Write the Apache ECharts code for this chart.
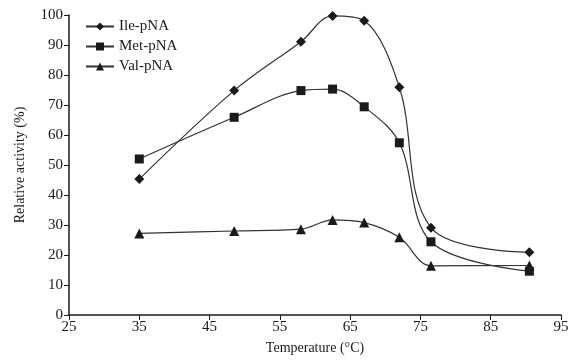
<!DOCTYPE html>
<html>
<head>
<meta charset="utf-8">
<script src="https://cdn.jsdelivr.net/npm/echarts@6/dist/echarts.min.js"></script>
<style>
	html, body { margin: 0; padding: 0; background: #fff; }
	#grafico { width: 574px; height: 364px; }
</style>
</head>
<body>
<div id="grafico"></div>
<script>
// Dados
const temperaturas = [35, 48.5, 58, 62.5, 67, 72, 76.5, 90.5];
const ilePNA = [45.3, 74.8, 91.1, 99.7, 98.1, 75.9, 29.1, 20.9];
const metPNA = [52, 65.9, 74.8, 75.3, 69.4, 57.4, 24.4, 14.6];
const valPNA = [27.2, 28, 28.6, 31.7, 30.8, 25.9, 16.4, 16.5];

const fonte = '"Liberation Serif", "DejaVu Serif", serif';
const cor = '#1a1a1a';

function serie(nome, valores, simbolo, tamanho) {
	return {
		name: nome,
		type: 'line',
		data: temperaturas.map((t, i) => [t, valores[i]]),
		smooth: 0.35,
		symbol: simbolo,
		symbolSize: tamanho,
		lineStyle: { color: '#333', width: 1.2 },
		itemStyle: { color: cor },
		animation: false
	};
}

const grafico = echarts.init(document.getElementById('grafico'));

grafico.setOption({
	animation: false,
	grid: { left: 69, right: 13, top: 15, bottom: 49 },
	legend: {
		orient: 'vertical',
		left: 80,
		top: 14,
		itemGap: 5,
		itemWidth: 28,
		itemHeight: 10,
		textStyle: { fontFamily: fonte, fontSize: 15, color: cor },
		data: ['Ile-pNA', 'Met-pNA', 'Val-pNA']
	},
	xAxis: {
		type: 'value',
		min: 25,
		max: 95,
		interval: 10,
		name: 'Temperature (°C)',
		nameLocation: 'middle',
		nameGap: 26,
		nameTextStyle: { fontFamily: fonte, fontSize: 14, color: cor },
		axisLine: { lineStyle: { color: cor, width: 1.5 } },
		axisTick: { lineStyle: { color: cor }, length: 5 },
		axisLabel: { fontFamily: fonte, fontSize: 15, color: cor, margin: 5 },
		splitLine: { show: false }
	},
	yAxis: {
		type: 'value',
		min: 0,
		max: 100,
		interval: 10,
		name: 'Relative activity (%)',
		nameLocation: 'middle',
		nameGap: 42,
		nameTextStyle: { fontFamily: fonte, fontSize: 14, color: cor },
		axisLine: { show: true, lineStyle: { color: cor, width: 1.5 } },
		axisTick: { show: true, lineStyle: { color: cor }, length: 5 },
		axisLabel: { fontFamily: fonte, fontSize: 15, color: cor, margin: 6 },
		splitLine: { show: false }
	},
	series: [
		serie('Ile-pNA', ilePNA, 'diamond', 10),
		serie('Met-pNA', metPNA, 'rect', 9),
		serie('Val-pNA', valPNA, 'triangle', 10)
	]
});
</script>
</body>
</html>
